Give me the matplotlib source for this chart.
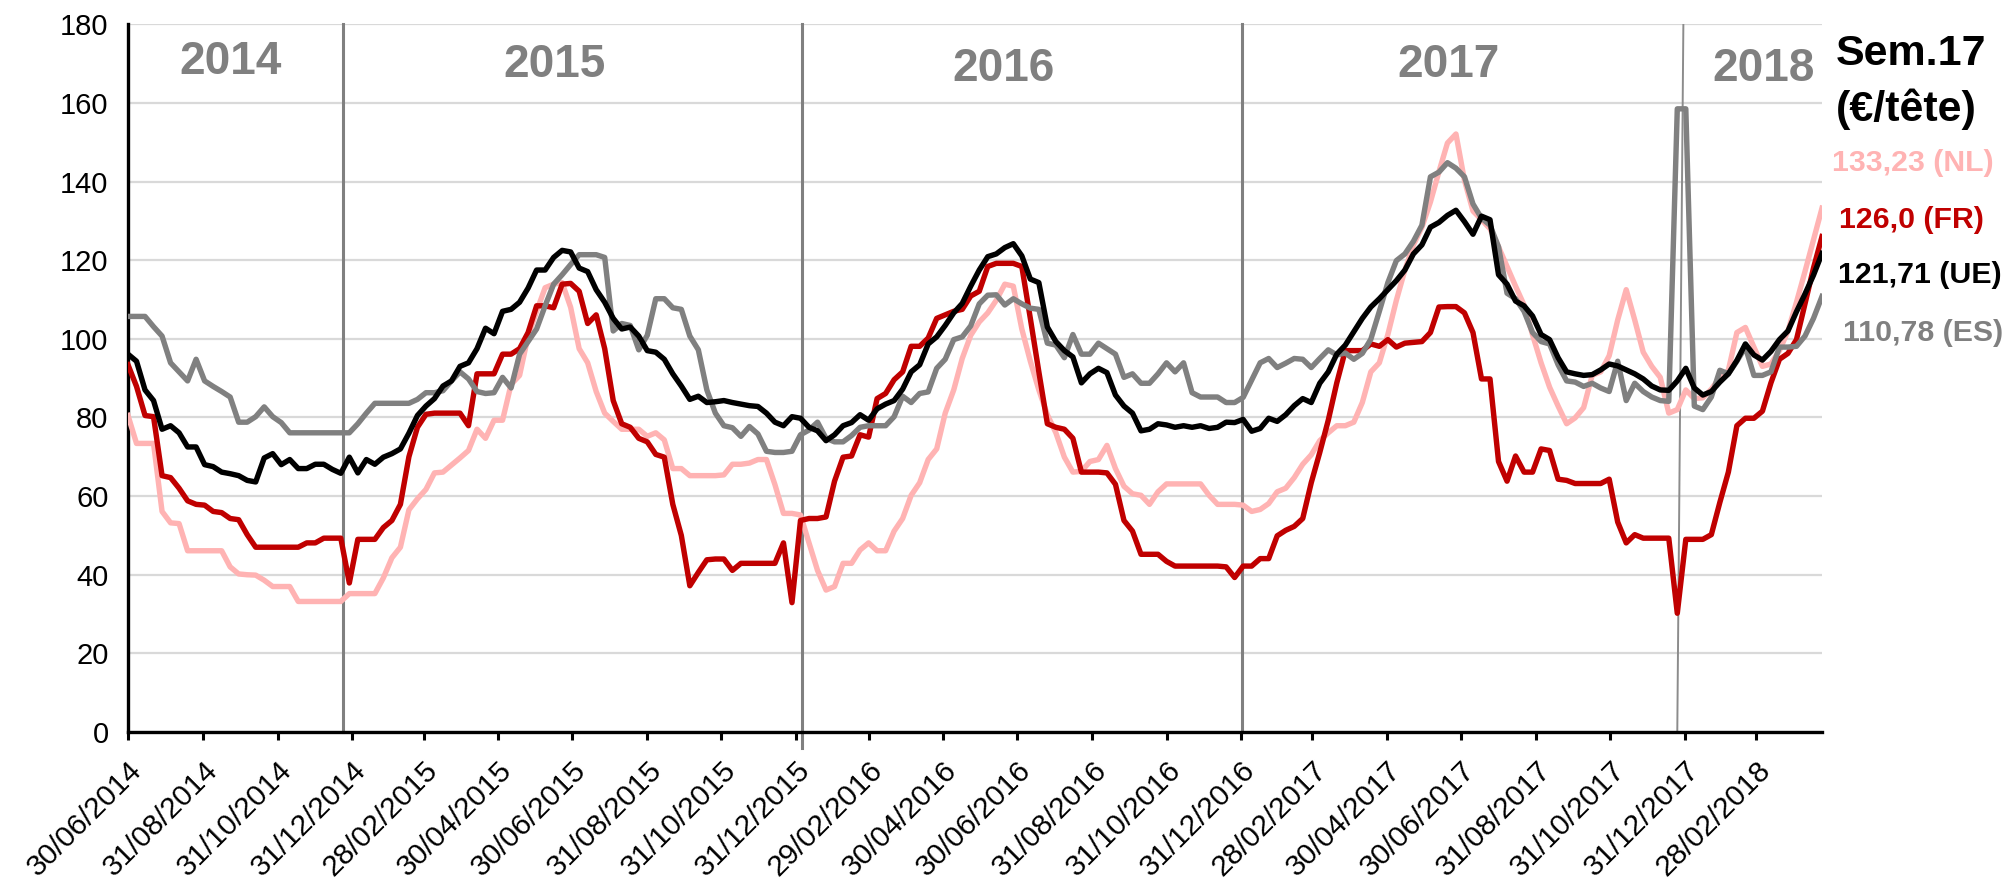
import matplotlib
matplotlib.use('Agg')
import matplotlib.pyplot as plt
import matplotlib.transforms as mtransforms
import pandas as pd

plt.rcParams['font.family'] = ['Liberation Sans', 'DejaVu Sans']

# ---------------- data (weekly prices, EUR/head) ----------------
START = '2014-06-30'

NL = [80.5, 73.4, 73.4, 73.4, 56.1, 53.2, 53.0, 46.1, 46.1, 46.1, 46.1, 46.1, 42.0, 40.2, 40.0, 39.9, 38.6,
      37.0, 37.0, 37.0, 33.2, 33.2, 33.2, 33.2, 33.2, 33.2, 35.2, 35.2, 35.2, 35.2, 39.2, 44.3, 47.0, 56.5,
      59.3, 61.7, 65.9, 66.1, 67.9, 69.7, 71.6, 77.0, 74.7, 79.3, 79.3, 88.4, 90.7, 100.7, 107.0, 113.0,
      113.9, 114.3, 108.0, 97.5, 93.9, 86.6, 81.1, 79.0, 77.0, 77.0, 77.0, 75.2, 76.1, 74.3, 67.0, 67.0, 65.2,
      65.2, 65.2, 65.2, 65.4, 68.1, 68.1, 68.4, 69.3, 69.3, 62.9, 55.6, 55.6, 55.2, 48.1, 41.1, 36.1, 37.0,
      42.9, 42.9, 46.3, 48.1, 46.1, 46.1, 51.1, 54.3, 60.2, 63.4, 69.3, 72.0, 81.1, 87.0, 95.0, 100.9,
      104.3, 106.6, 109.8, 113.9, 113.4, 102.5, 94.3, 87.0, 80.7, 76.1, 69.9, 66.1, 66.3, 68.8, 69.3, 72.9,
      67.0, 62.5, 60.6, 60.2, 57.9, 61.1, 63.1, 63.1, 63.1, 63.1, 63.1, 60.2, 57.9, 57.9, 57.9, 57.7, 56.1,
      56.6, 58.1, 61.1, 62.0, 64.7, 68.1, 70.5, 74.1, 76.1, 77.9, 77.9, 78.8, 83.8, 91.6, 93.9, 101.1,
      109.8, 117.5, 123.9, 128.4, 134.8, 142.5, 149.8, 152.1, 140.3, 132.5, 130.3, 128.0, 123.4, 118.4,
      113.4, 108.6, 101.0,
      93.9, 87.7, 82.9, 78.4, 79.9, 82.5, 90.7, 91.6, 95.7, 104.8, 112.5, 104.8, 96.6, 93.0, 90.2, 81.1,
      82.0, 87.0, 84.8, 85.0, 87.2, 90.2, 92.0, 101.6, 102.9, 97.9, 93.0, 93.6, 97.0, 102.0, 109.3, 117.1,
      125.2, 133.23]

FR = [93.4, 87.9, 80.5, 80.2, 65.2, 64.7, 62.0, 58.8, 57.9, 57.7, 56.1, 55.8, 54.3, 54.0, 50.2, 47.0,
      47.0, 47.0, 47.0, 47.0, 47.0, 48.1, 48.1, 49.3, 49.3, 49.3, 37.9, 49.0, 49.0, 49.0, 52.0, 53.8, 57.9, 70.0,
      77.5, 80.8, 81.1, 81.1, 81.1, 81.1, 77.9, 91.1, 91.1, 91.1, 96.1, 96.1, 97.5, 101.6, 108.4, 108.4,
      107.9, 113.9, 114.1, 112.1, 103.9, 106.1, 97.5, 84.3, 78.4, 77.5, 74.7, 73.8, 70.6, 69.9, 57.9, 50.0, 37.2,
      40.6, 43.8, 44.0, 44.0, 41.1, 42.9, 42.9, 42.9, 42.9, 42.9, 48.1, 32.9, 53.8, 54.3, 54.3, 54.7,
      63.8, 69.9, 70.2, 75.6, 75.0, 84.8, 86.1, 89.6, 91.6, 98.1, 98.1, 100.2, 105.2, 106.1, 107.0, 107.5, 110.9,
      112.1, 118.4, 119.2, 119.2, 119.2, 118.4, 105.2, 91.6, 78.4, 77.5, 77.0, 74.7, 66.1, 66.1, 66.1, 65.9,
      63.0, 53.8, 51.1, 45.2, 45.2, 45.2, 43.4, 42.2, 42.2, 42.2, 42.2, 42.2, 42.2, 42.0, 39.3, 42.2, 42.2,
      44.1, 44.1, 49.9, 51.3, 52.3, 54.3, 63.4, 71.1, 79.3, 88.8, 97.0, 97.0, 97.0, 98.7, 98.1, 99.8,
      97.9, 98.9, 99.1, 99.3, 101.6, 108.1, 108.2, 108.2, 106.6, 101.6, 89.8, 89.8, 68.8, 63.8, 70.2, 66.1, 66.1,
      72.0, 71.6, 64.3, 64.0, 63.2, 63.2, 63.2, 63.2, 64.3, 53.4, 48.1, 50.2, 49.3, 49.3, 49.3, 49.3,
      30.2, 49.0, 49.0, 49.0, 50.2, 58.4, 66.1, 77.9, 79.8, 79.8, 81.6, 88.8, 94.8, 96.3, 99.8, 108.9,
      118.0, 126.0]

UE = [96.1, 94.3, 87.0, 84.3, 77.0, 77.9, 76.1, 72.5, 72.5, 68.0, 67.5, 66.1, 65.7, 65.2, 64.0, 63.6,
      69.7, 70.8, 68.0, 69.3, 67.0, 67.0, 68.1, 68.1, 66.8, 65.8, 69.9, 65.9, 69.3, 68.1, 69.9, 70.8, 72.0, 76.0,
      80.5, 82.9, 84.8, 88.0, 89.3, 93.0, 93.9, 97.5, 102.7, 101.3, 107.0, 107.5, 109.3, 112.9, 117.5, 117.5,
      120.7, 122.5, 122.1, 118.0, 117.1, 112.5, 109.3, 105.2, 102.5, 103.0, 100.7, 97.0, 96.6, 94.8, 91.1, 88.0, 84.6,
      85.4, 83.8, 84.0, 84.3, 83.8, 83.4, 83.0, 82.8, 81.1, 78.8, 77.9, 80.2, 79.8, 77.5, 76.6, 74.1,
      75.6, 77.9, 78.7, 80.7, 79.3, 82.2, 83.4, 84.3, 87.2, 91.6, 93.4, 98.7, 100.5, 103.4, 106.6, 109.0, 113.4,
      117.5, 120.9, 121.6, 123.2, 124.2, 121.1, 115.2, 114.3, 103.0, 99.3, 97.0, 95.4, 88.8, 91.1, 92.5, 91.4,
      85.7, 82.9, 81.1, 76.6, 77.0, 78.4, 78.1, 77.5, 77.9, 77.5, 77.9, 77.2, 77.5, 78.8, 78.7, 79.5, 76.5,
      77.2, 79.8, 79.0, 80.7, 83.0, 84.8, 83.8, 88.7, 91.6, 96.1, 98.4, 101.8, 105.2, 108.1, 110.2, 112.5,
      114.8, 117.5, 121.6, 123.9, 128.4, 129.6, 131.4, 132.7, 129.8, 126.6, 131.2, 130.3, 116.3, 113.9,
      109.6, 108.4, 105.8,
      101.1, 99.8, 95.2, 91.6, 91.1, 90.7, 90.9, 92.1, 93.6, 93.1, 92.1, 91.1, 89.8, 88.0, 87.0, 86.9,
      89.3, 92.5, 87.5, 85.7, 86.6, 89.0, 91.1, 94.5, 98.7, 95.9, 94.6, 96.8, 99.8, 102.0, 106.9, 111.4,
      116.2, 121.71]

ES = [105.7, 105.7, 105.7, 103.1, 100.7, 93.9, 91.6, 89.3, 94.8, 89.3, 87.9, 86.6, 85.2, 78.8, 78.8, 80.2,
      82.7, 80.2, 78.7, 76.1, 76.1, 76.1, 76.1, 76.1, 76.1, 76.1, 76.1, 78.4, 81.1, 83.6, 83.6, 83.6, 83.6, 83.6,
      84.6, 86.3, 86.3, 86.8, 89.3, 91.6, 89.8, 86.6, 86.1, 86.3, 90.2, 87.5, 96.1, 99.3, 102.5, 108.4,
      113.9, 116.3, 118.9, 121.4, 121.4, 121.4, 120.7, 102.0, 103.9, 103.4, 97.2, 100.9, 110.2, 110.2, 107.9, 107.5, 100.7,
      97.2, 87.0, 81.1, 77.9, 77.4, 75.2, 77.7, 75.8, 71.4, 71.1, 71.1, 71.4, 75.6, 76.8, 78.8, 74.7,
      73.8, 73.8, 75.4, 77.5, 77.9, 77.9, 77.9, 80.2, 85.4, 83.8, 86.1, 86.5, 92.5, 94.8, 99.8, 100.5, 103.3,
      108.9, 111.1, 111.2, 108.6, 110.2, 108.9, 107.8, 107.5, 98.9, 98.4, 95.2, 101.1, 96.1, 96.1, 98.9, 97.5,
      96.1, 90.2, 91.1, 88.7, 88.7, 91.1, 93.9, 91.6, 93.9, 86.3, 85.2, 85.2, 85.2, 83.8, 83.8, 85.1, 89.5,
      93.9, 95.0, 92.7, 93.8, 95.0, 94.8, 92.7, 95.0, 97.2, 95.9, 96.4, 94.8, 96.3, 99.9, 107.0, 114.3,
      119.9, 121.6, 124.8, 128.9, 141.2, 142.4, 144.8, 143.4, 141.2, 134.3, 130.7, 128.9, 123.4, 111.6,
      110.2, 107.0, 101.6,
      99.3, 98.7, 93.4, 89.3, 89.0, 87.9, 88.7, 87.5, 86.6, 94.3, 84.3, 88.7, 86.6, 85.2, 84.3, 84.1,
      158.5, 158.5, 82.9, 82.0, 85.2, 92.0, 91.1, 94.3, 97.9, 90.7, 90.7, 91.6, 97.9, 97.9, 98.1, 100.7,
      105.2, 110.78]

TICK_LABELS = ['30/06/2014', '31/08/2014', '31/10/2014', '31/12/2014', '28/02/2015', '30/04/2015',
               '30/06/2015', '31/08/2015', '31/10/2015', '31/12/2015', '29/02/2016', '30/04/2016',
               '30/06/2016', '31/08/2016', '31/10/2016', '31/12/2016', '28/02/2017', '30/04/2017',
               '30/06/2017', '31/08/2017', '31/10/2017', '31/12/2017', '28/02/2018']

YEARS = ['2014', '2015', '2016', '2017', '2018']
YEAR_LABEL_DATES = ['2014-09-22', '2015-06-16', '2016-06-19', '2017-06-20', '2018-03-06']
YEAR_LABEL_Y = [170.5, 169.7, 168.7, 169.7, 168.7]
YEAR_BOUNDARIES = ['2014-12-24', '2016-01-05', '2017-01-01']
YEAR_BOUNDARY_2018 = ['2017-12-30', '2017-12-25']   # top, bottom (slightly slanted)

SERIES_LABELS = ['133,23 (NL)', '126,0 (FR)', '121,71 (UE)', '110,78 (ES)']
TITLE_LINES = ['Sem.17', '(€/tête)']

# ---------------- styling ----------------
C_NL = '#FFB3B3'
C_FR = '#C00000'
C_UE = '#000000'
C_ES = '#808080'
C_YEAR = '#808080'

dates = pd.date_range(START, periods=len(UE), freq='7D')

W, H = 2009, 881
fig = plt.figure(figsize=(W / 100, H / 100), dpi=100)
ax = fig.add_axes([128 / W, 1 - 732 / H, (1822 - 128) / W, (732 - 24.3) / H])

ax.set_ylim(0, 180)
ax.set_xlim(dates[0], dates[-1])
ax.set_yticks(range(0, 181, 20))
ax.yaxis.grid(True, color='#D9D9D9', lw=1.6)
ax.set_axisbelow(True)

for s in ['top', 'right']:
    ax.spines[s].set_visible(False)
for s in ['left', 'bottom']:
    ax.spines[s].set_linewidth(2.4)
    ax.spines[s].set_color('black')

# year separators
for d in YEAR_BOUNDARIES:
    lo = -4 if d.startswith('2016') else 0
    ax.plot([pd.Timestamp(d)] * 2, [lo, 180], color='#808080', lw=2.2, zorder=1.5, clip_on=False)
ax.plot([pd.Timestamp(YEAR_BOUNDARY_2018[0]), pd.Timestamp(YEAR_BOUNDARY_2018[1])], [180, 0],
        color='#8C8C8C', lw=1.4, zorder=1.5)

lw = 3.9
ax.plot(dates, NL, color=C_NL, lw=lw, zorder=3)
ax.plot(dates, FR, color=C_FR, lw=lw, zorder=4)
ax.plot(dates, ES, color=C_ES, lw=lw, zorder=5)
ax.plot(dates, UE, color=C_UE, lw=lw, zorder=6)

# year labels
for lab, d, y in zip(YEARS, YEAR_LABEL_DATES, YEAR_LABEL_Y):
    ax.text(pd.Timestamp(d), y, lab, color=C_YEAR, fontsize=33, fontweight='bold',
            ha='center', va='center', zorder=7)

# axis ticks
tick_dates = [pd.to_datetime(t, format='%d/%m/%Y') for t in TICK_LABELS]
ax.set_xticks(tick_dates)
ax.set_xticklabels(TICK_LABELS)
ax.tick_params(axis='x', direction='out', length=6, width=2.2, pad=18.5, labelsize=21.5)
ax.tick_params(axis='y', length=0, pad=14, labelsize=21)
offset = mtransforms.ScaledTranslation(10 / 100, 0, fig.dpi_scale_trans)
for lbl in ax.get_xticklabels():
    lbl.set_rotation(45)
    lbl.set_ha('right')
    lbl.set_va('center')
    lbl.set_rotation_mode('anchor')
    lbl.set_transform(lbl.get_transform() + offset)

# right-hand annotations
fig.text(1836 / W, 1 - 54 / H, TITLE_LINES[0], fontsize=31, fontweight='bold', color='black',
         ha='left', va='center')
fig.text(1836 / W, 1 - 109 / H, TITLE_LINES[1], fontsize=31, fontweight='bold', color='black',
         ha='left', va='center')
ann_y = [163, 220, 275, 333]
ann_x = [1832, 1839, 1838, 1843]
ann_c = [C_NL, C_FR, C_UE, C_ES]
for lab, x, y, c in zip(SERIES_LABELS, ann_x, ann_y, ann_c):
    fig.text(x / W, 1 - y / H, lab, fontsize=21.8, fontweight='bold', color=c, ha='left', va='center')

fig.savefig('out.png', dpi=100)
